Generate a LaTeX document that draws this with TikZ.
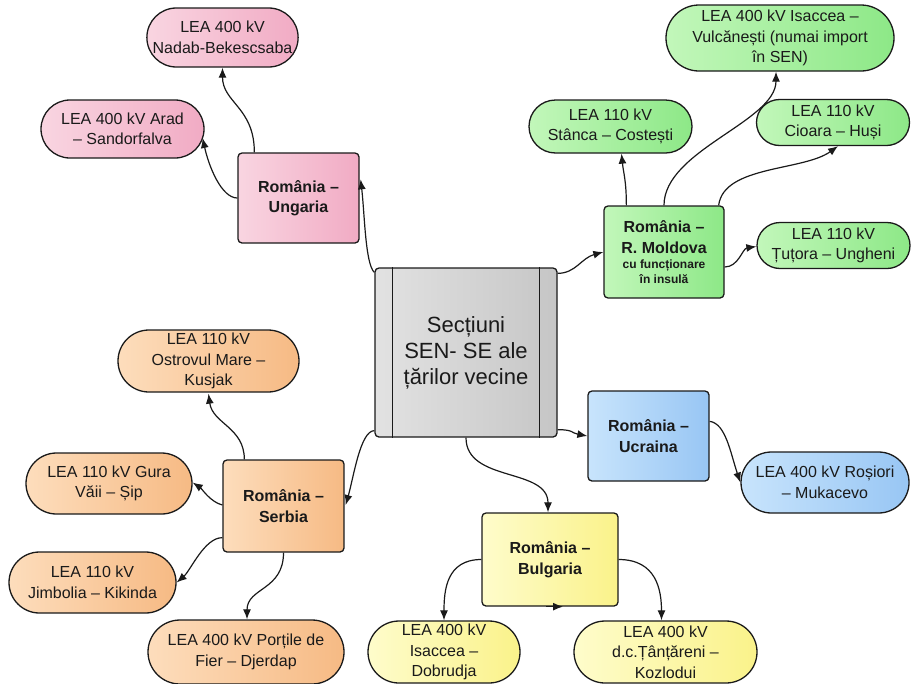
\documentclass[tikz,border=0pt]{standalone}
\usepackage{fontspec}
\setmainfont{Liberation Sans}
\usetikzlibrary{shapes.misc,arrows.meta,calc}

\definecolor{pinkA}{HTML}{F9D5E1}\definecolor{pinkB}{HTML}{F1ABC4}
\definecolor{greenA}{HTML}{C2F7BA}\definecolor{greenB}{HTML}{8DE887}
\definecolor{blueA}{HTML}{C8E4FC}\definecolor{blueB}{HTML}{98C6F4}
\definecolor{yelA}{HTML}{FEFCCB}\definecolor{yelB}{HTML}{FAF28A}
\definecolor{oraA}{HTML}{FDDDBC}\definecolor{oraB}{HTML}{F6BA84}
\definecolor{grayA}{HTML}{E2E2E2}\definecolor{grayB}{HTML}{C6C6C6}
\definecolor{ink}{HTML}{1A1A1A}

\tikzset{
  hub/.style={draw=ink, line width=1.3pt, rounded corners=4pt, align=center,
    left color=grayA, right color=grayB, text=ink,
    font=\fontsize{22}{26}\selectfont},
  country/.style={draw=ink, line width=1.3pt, rounded corners=4pt, align=center,
    text=ink, font=\fontsize{16}{20.5}\selectfont\bfseries, inner sep=2pt},
  leaf/.style={rounded rectangle, draw=ink, line width=1.3pt, align=center,
    text=ink, font=\fontsize{16}{20.5}\selectfont, inner sep=1pt},
  pinkfill/.style={left color=pinkA, right color=pinkB},
  greenfill/.style={left color=greenA, right color=greenB},
  bluefill/.style={left color=blueA, right color=blueB},
  yelfill/.style={left color=yelA, right color=yelB},
  orafill/.style={left color=oraA, right color=oraB},
  link/.style={draw=ink, line width=1.2pt, -{Latex[length=10pt,width=8pt]}},
}

\begin{document}
\begin{tikzpicture}[x=1pt,y=-1pt]
\useasboundingbox (0,0) rectangle (912,683);

% central block with its two inner rules
\node[hub, minimum width=182pt, minimum height=169pt] (c) at (466,352.5)
  {Secțiuni\\SEN- SE ale\\țărilor vecine};
\draw[ink, line width=1.3pt] ($(c.north west)+(18,0)$) -- ($(c.south west)+(18,0)$);
\draw[ink, line width=1.3pt] ($(c.north east)+(-18,0)$) -- ($(c.south east)+(-18,0)$);

% country blocks
\node[country, pinkfill,  minimum width=121pt, minimum height=90pt] (ung) at (298.5,198) {România –\\Ungaria};
\node[country, greenfill, minimum width=120pt, minimum height=92pt] (mol) at (664,252)
  {România –\\R. Moldova\\[-5pt]{\fontsize{12}{14}\selectfont cu funcționare}\\[-6pt]{\fontsize{12}{14}\selectfont în insulă}};
\node[country, bluefill,  minimum width=121pt, minimum height=90pt] (ucr) at (648.5,436) {România –\\Ucraina};
\node[country, yelfill,   minimum width=136pt, minimum height=93pt] (bul) at (550,559.5) {România –\\Bulgaria};
\node[country, orafill,   minimum width=121pt, minimum height=92pt] (ser) at (283.5,506) {România –\\Serbia};

% interconnection lines
\node[leaf, pinkfill, minimum width=149pt, minimum height=59pt] (nad) at (222.5,37.5) {LEA 400 kV\\Nadab-Bekescsaba};
\node[leaf, pinkfill, minimum width=165pt, minimum height=58pt] (ara) at (122.5,129) {LEA 400 kV Arad\\– Sandorfalva};

\node[leaf, greenfill, minimum width=230pt, minimum height=66pt] (vul) at (780,38) {LEA 400 kV Isaccea –\\Vulcănești (numai import\\în SEN)};
\node[leaf, greenfill, minimum width=165pt, minimum height=53pt] (sta) at (610.5,126.5) {LEA 110 kV\\Stânca – Costești};
\node[leaf, greenfill, minimum width=155pt, minimum height=46pt] (cio) at (833,122.5) {LEA 110 kV\\Cioara – Huși};
\node[leaf, greenfill, minimum width=155pt, minimum height=46pt] (tut) at (833.5,245.5) {LEA 110 kV\\Țuțora – Ungheni};

\node[leaf, bluefill, minimum width=170pt, minimum height=61pt] (ros) at (825,482.5) {LEA 400 kV Roșiori\\– Mukacevo};

\node[leaf, yelfill, minimum width=154pt, minimum height=62pt] (dob) at (444,652) {LEA 400 kV\\Isaccea –\\Dobrudja};
\node[leaf, yelfill, minimum width=185pt, minimum height=62pt] (tan) at (665.5,652) {LEA 400 kV\\d.c.Țânțăreni –\\Kozlodui};

\node[leaf, orafill, minimum width=183pt, minimum height=62pt] (ost) at (208.5,361) {LEA 110 kV\\Ostrovul Mare –\\Kusjak};
\node[leaf, orafill, minimum width=168pt, minimum height=61pt] (gur) at (109,483.5) {LEA 110 kV Gura\\Văii – Șip};
\node[leaf, orafill, minimum width=169pt, minimum height=61pt] (jim) at (92.5,582.5) {LEA 110 kV\\Jimbolia – Kikinda};
\node[leaf, orafill, minimum width=198pt, minimum height=64pt] (por) at (246,652) {LEA 400 kV Porțile de\\Fier – Djerdap};

% connectors: hub to countries
\draw[link] ($(c.north west)+(0,5)$) .. controls +(-9,-8) and +(4,35) .. ($(ung.north east)+(1,27)$);
\draw[link] ($(c.north east)+(0,6)$) .. controls +(18,0) and +(-22,6) .. ($(mol.west)+(0,0)$);
\draw[link] ($(c.south east)+(0,-8)$) .. controls +(16,0) and +(-16,-3) .. (ucr.west);
\draw[link] ($(c.south)+(0,0)$) .. controls +(0,45) and +(0,-45) .. ($(bul.north)+(-2,0)$);
\draw[link] ($(c.south west)+(0,-7)$) .. controls +(-14,0) and +(8,-28) .. ($(ser.east)+(1,-1)$);

% Hungary
\draw[link] ($(ung.north west)+(17,0)$) .. controls +(0,-45) and +(0,35) .. (nad.south);
\draw[link] ($(ung.west)+(0,0)$) .. controls +(-16,0) and +(6,28) .. ($(ara.east)+(-2,9)$);

% Moldova
\draw[link] ($(mol.north west)+(23,0)$) .. controls +(0,-25) and +(2,20) .. ($(sta.south)+(11,0)$);
\draw[link] ($(mol.north)+(0,0)$) .. controls +(0,-55) and +(0,50) .. ($(vul.south)+(-4,0)$);
\draw[link] ($(mol.north east)+(-6,0)$) .. controls +(5,-40) and +(-35,25) .. ($(cio.south)+(5,0)$);
\draw[link] ($(mol.east)+(0,15)$) .. controls +(14,0) and +(-14,2) .. ($(tut.west)+(0,1)$);

% Ukraine
\draw[link] ($(ucr.north east)+(0,31)$) .. controls +(16,2) and +(-10,-30) .. ($(ros.west)+(0,0)$);

% Bulgaria
\draw[link] ($(bul.west)+(0,0)$) .. controls +(-35,0) and +(0,-30) .. (dob.north);
\draw[link] ($(bul.east)+(0,0)$) .. controls +(38,0) and +(0,-30) .. ($(tan.north)+(-4,0)$);
\draw[link] ($(bul.south)+(-4,0)$) -- ($(bul.south)+(13,0)$);

% Serbia
\draw[link] ($(ser.north west)+(22,0)$) .. controls +(0,-32) and +(4,30) .. ($(ost.south)+(0,1)$);
\draw[link] ($(ser.west)+(0,-1)$) .. controls +(-12,-3) and +(9,6) .. ($(gur.east)+(0,-1)$);
\draw[link] ($(ser.south west)+(0,-15)$) .. controls +(-18,0) and +(14,-12) .. ($(jim.east)+(0,0)$);
\draw[link] ($(ser.south)+(0,0)$) .. controls +(0,38) and +(0,-32) .. ($(por.north)+(1,0)$);
\end{tikzpicture}
\end{document}
